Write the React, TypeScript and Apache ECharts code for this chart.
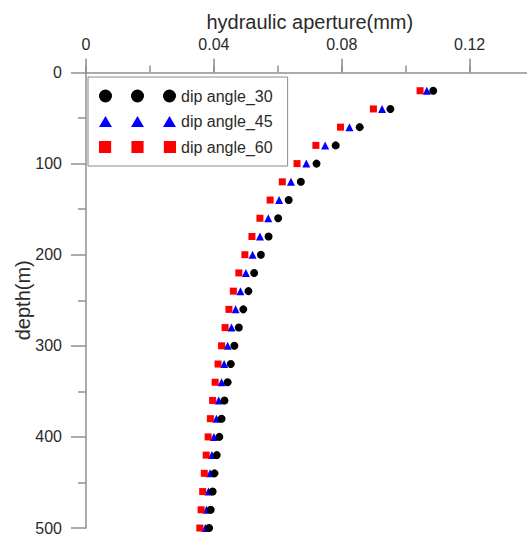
import React, { useEffect, useRef } from "react";
import * as echarts from "echarts";

const depths = [20, 40, 60, 80, 100, 120, 140, 160, 180, 200, 220, 240, 260, 280, 300, 320, 340, 360, 380, 400, 420, 440, 460, 480, 500];

const dip30 = [0.1086, 0.0952, 0.0856, 0.0781, 0.0721, 0.0672, 0.0634, 0.0601, 0.0571, 0.0547, 0.0526, 0.0508, 0.0492, 0.0478, 0.0464, 0.0453, 0.0443, 0.0433, 0.0424, 0.0417, 0.0409, 0.0402, 0.0396, 0.039, 0.0385];
const dip45 = [0.1066, 0.0926, 0.0824, 0.0748, 0.0689, 0.0641, 0.0604, 0.057, 0.0544, 0.0521, 0.05, 0.0483, 0.0468, 0.0455, 0.0443, 0.0432, 0.0424, 0.0415, 0.0408, 0.04, 0.0394, 0.0388, 0.0383, 0.0377, 0.0373];
const dip60 = [0.1045, 0.0899, 0.0796, 0.0719, 0.066, 0.0614, 0.0576, 0.0544, 0.0519, 0.0497, 0.0478, 0.0461, 0.0447, 0.0435, 0.0424, 0.0413, 0.0404, 0.0396, 0.0389, 0.0382, 0.0376, 0.037, 0.0365, 0.036, 0.0356];

const seriesNames = ["dip angle_30", "dip angle_45", "dip angle_60"];
const xTickLabels = ["0", "0.04", "0.08", "0.12"];

const FONT = "'Liberation Sans', Arial, sans-serif";
const AXIS_COLOR = "#8f8f8f";
const TEXT_COLOR = "#2a2a2a";

const circleIcon =
  "path://M0,6.5A6.5,6.5,0,1,1,13,6.5A6.5,6.5,0,1,1,0,6.5Z" +
  "M32,6.5A6.5,6.5,0,1,1,45,6.5A6.5,6.5,0,1,1,32,6.5Z" +
  "M64,6.5A6.5,6.5,0,1,1,77,6.5A6.5,6.5,0,1,1,64,6.5Z";
const triangleIcon =
  "path://M6.5,0L13,11L0,11Z M38.5,0L45,11L32,11Z M70.5,0L77,11L64,11Z";
const squareIcon =
  "path://M0.5,0L12.5,0L12.5,12L0.5,12Z M32.5,0L44.5,0L44.5,12L32.5,12Z M64.5,0L76.5,0L76.5,12L64.5,12Z";

export default function App() {
  const ref = useRef<HTMLDivElement>(null);

  useEffect(() => {
    if (!ref.current) return;
    const chart = echarts.init(ref.current, undefined, { renderer: "svg" });
    const toPairs = (vals: number[]) => vals.map((v, i) => [v, depths[i]]);

    chart.setOption({
      animation: false,
      backgroundColor: "#ffffff",
      textStyle: { fontFamily: FONT },
      grid: {
        left: 86,
        top: 72.5,
        width: 447.6,
        height: 455.5,
        containLabel: false,
        outerBoundsMode: "none",
      },
      legend: {
        orient: "vertical",
        left: 88,
        top: 77,
        padding: [11, 15, 11, 11],
        itemWidth: 77,
        itemHeight: 13,
        itemGap: 9.5,
        borderColor: "#8a8a8a",
        borderWidth: 1,
        backgroundColor: "#ffffff",
        textStyle: { fontFamily: FONT, fontSize: 16, color: TEXT_COLOR },
        data: [
          { name: seriesNames[0], icon: circleIcon },
          { name: seriesNames[1], icon: triangleIcon },
          { name: seriesNames[2], icon: squareIcon },
        ],
      },
      xAxis: [
        {
          type: "value",
          position: "top",
          min: 0,
          max: 0.14,
          interval: 0.04,
          name: "hydraulic aperture(mm)",
          nameLocation: "middle",
          nameGap: 41,
          nameMoveOverlap: false,
          nameTextStyle: { fontFamily: FONT, fontSize: 20, color: TEXT_COLOR },
          axisLine: { show: true, lineStyle: { color: AXIS_COLOR, width: 1.5 } },
          axisTick: { show: true, length: 14, lineStyle: { color: AXIS_COLOR, width: 1.5 } },
          axisLabel: {
            show: true,
            margin: 20,
            fontSize: 16,
            color: TEXT_COLOR,
            fontFamily: FONT,
            showMaxLabel: false,
            formatter: (v: number) => {
              const idx = Math.round(v / 0.04);
              return Math.abs(v - idx * 0.04) < 1e-9 && idx < xTickLabels.length ? xTickLabels[idx] : "";
            },
          },
          splitLine: { show: false },
        },
        {
          type: "value",
          position: "top",
          min: 0,
          max: 0.14,
          interval: 0.02,
          axisLine: { show: false },
          axisTick: { show: true, length: 7, lineStyle: { color: AXIS_COLOR, width: 1.5 } },
          axisLabel: { show: false },
          splitLine: { show: false },
        },
      ],
      yAxis: {
        type: "value",
        inverse: true,
        min: 0,
        max: 500,
        interval: 100,
        name: "depth(m)",
        nameLocation: "middle",
        nameGap: 53,
        nameMoveOverlap: false,
        nameTextStyle: { fontFamily: FONT, fontSize: 20, color: TEXT_COLOR },
        axisLine: { show: true, lineStyle: { color: AXIS_COLOR, width: 1.5 } },
        axisTick: { show: true, length: 15, lineStyle: { color: AXIS_COLOR, width: 1.5 } },
        minorTick: { show: true, splitNumber: 2, length: 8, lineStyle: { color: AXIS_COLOR, width: 1.5 } },
        axisLabel: { margin: 24, fontSize: 16, color: TEXT_COLOR, fontFamily: FONT },
        splitLine: { show: false },
        minorSplitLine: { show: false },
      },
      series: [
        {
          name: seriesNames[0],
          type: "scatter",
          xAxisIndex: 0,
          symbol: "circle",
          symbolSize: 8,
          z: 4,
          itemStyle: { color: "#000000", opacity: 1 },
          data: toPairs(dip30),
        },
        {
          name: seriesNames[1],
          type: "scatter",
          xAxisIndex: 0,
          symbol: "triangle",
          symbolSize: 8,
          z: 2,
          itemStyle: { color: "#0000ff", opacity: 1 },
          data: toPairs(dip45),
        },
        {
          name: seriesNames[2],
          type: "scatter",
          xAxisIndex: 0,
          symbol: "rect",
          symbolSize: 7,
          z: 3,
          itemStyle: { color: "#ff0000", opacity: 1 },
          data: toPairs(dip60),
        },
      ],
    });

    return () => chart.dispose();
  }, []);

  return (
    <div
      ref={ref}
      style={{ position: "fixed", left: 0, top: 0, width: 527, height: 536 }}
    />
  );
}
